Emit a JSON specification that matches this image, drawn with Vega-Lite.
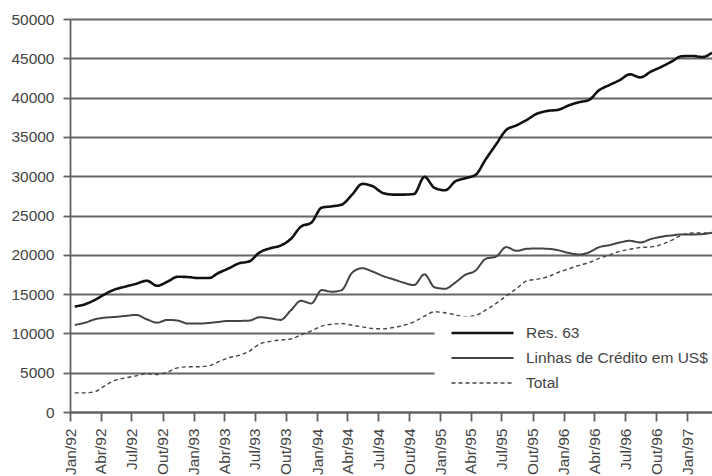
{
  "$schema": "https://vega.github.io/schema/vega-lite/v6.json",
  "width": 642,
  "height": 393,
  "autosize": "none",
  "padding": {"left": 70, "top": 19, "right": 0, "bottom": 64},
  "background": "white",
  "config": {
    "view": {"stroke": null},
    "font": "Liberation Sans",
    "axis": {
      "domainColor": "#606060",
      "domainWidth": 1.8,
      "tickColor": "#606060",
      "tickWidth": 1.8,
      "gridColor": "#666666",
      "gridWidth": 1.8,
      "labelFont": "Liberation Sans",
      "labelFontSize": 15.5,
      "labelColor": "#444444",
      "title": null
    }
  },
  "data": {
    "values": [
      {"d": "1992-01-15", "r": 13420, "l": 11080, "t": 2430},
      {"d": "1992-02-15", "r": 13720, "l": 11370, "t": 2430},
      {"d": "1992-03-15", "r": 14270, "l": 11800, "t": 2600},
      {"d": "1992-04-15", "r": 15040, "l": 12010, "t": 3400},
      {"d": "1992-05-15", "r": 15630, "l": 12100, "t": 4050},
      {"d": "1992-06-15", "r": 15980, "l": 12230, "t": 4350},
      {"d": "1992-07-15", "r": 16320, "l": 12350, "t": 4600},
      {"d": "1992-08-15", "r": 16700, "l": 11800, "t": 4860},
      {"d": "1992-09-15", "r": 16060, "l": 11370, "t": 4770},
      {"d": "1992-10-15", "r": 16570, "l": 11720, "t": 5070},
      {"d": "1992-11-15", "r": 17210, "l": 11630, "t": 5620},
      {"d": "1992-12-15", "r": 17170, "l": 11250, "t": 5750},
      {"d": "1993-01-15", "r": 17040, "l": 11250, "t": 5750},
      {"d": "1993-02-15", "r": 17040, "l": 11330, "t": 5880},
      {"d": "1993-03-15", "r": 17680, "l": 11460, "t": 6390},
      {"d": "1993-04-15", "r": 18280, "l": 11590, "t": 6900},
      {"d": "1993-05-15", "r": 18910, "l": 11590, "t": 7200},
      {"d": "1993-06-15", "r": 19170, "l": 11630, "t": 7750},
      {"d": "1993-07-15", "r": 20300, "l": 12060, "t": 8650},
      {"d": "1993-08-15", "r": 20830, "l": 11930, "t": 8990},
      {"d": "1993-09-15", "r": 21170, "l": 11720, "t": 9160},
      {"d": "1993-10-15", "r": 22000, "l": 12900, "t": 9290},
      {"d": "1993-11-15", "r": 23600, "l": 14150, "t": 9810},
      {"d": "1993-12-15", "r": 24080, "l": 13810, "t": 10320},
      {"d": "1994-01-15", "r": 26000, "l": 15510, "t": 10920},
      {"d": "1994-02-15", "r": 26170, "l": 15300, "t": 11170},
      {"d": "1994-03-15", "r": 26380, "l": 15510, "t": 11260},
      {"d": "1994-04-15", "r": 27660, "l": 17730, "t": 11040},
      {"d": "1994-05-15", "r": 29020, "l": 18290, "t": 10830},
      {"d": "1994-06-15", "r": 28720, "l": 17860, "t": 10620},
      {"d": "1994-07-15", "r": 27870, "l": 17310, "t": 10580},
      {"d": "1994-08-15", "r": 27660, "l": 16880, "t": 10750},
      {"d": "1994-09-15", "r": 27660, "l": 16450, "t": 11040},
      {"d": "1994-10-15", "r": 27740, "l": 16150, "t": 11470},
      {"d": "1994-11-15", "r": 29910, "l": 17520, "t": 12190},
      {"d": "1994-12-15", "r": 28510, "l": 15860, "t": 12750},
      {"d": "1995-01-15", "r": 28210, "l": 15680, "t": 12620},
      {"d": "1995-02-15", "r": 29360, "l": 16490, "t": 12360},
      {"d": "1995-03-15", "r": 29740, "l": 17430, "t": 12110},
      {"d": "1995-04-15", "r": 30170, "l": 17990, "t": 12280},
      {"d": "1995-05-15", "r": 32130, "l": 19480, "t": 12960},
      {"d": "1995-06-15", "r": 34050, "l": 19780, "t": 13810},
      {"d": "1995-07-15", "r": 35880, "l": 20980, "t": 14750},
      {"d": "1995-08-15", "r": 36480, "l": 20500, "t": 15720},
      {"d": "1995-09-15", "r": 37200, "l": 20770, "t": 16700},
      {"d": "1995-10-15", "r": 37970, "l": 20800, "t": 16900},
      {"d": "1995-11-15", "r": 38310, "l": 20760, "t": 17200},
      {"d": "1995-12-15", "r": 38440, "l": 20590, "t": 17750},
      {"d": "1996-01-15", "r": 38990, "l": 20250, "t": 18200},
      {"d": "1996-02-15", "r": 39420, "l": 20040, "t": 18650},
      {"d": "1996-03-15", "r": 39680, "l": 20290, "t": 19000},
      {"d": "1996-04-15", "r": 40950, "l": 20970, "t": 19550},
      {"d": "1996-05-15", "r": 41590, "l": 21230, "t": 19960},
      {"d": "1996-06-15", "r": 42230, "l": 21570, "t": 20450},
      {"d": "1996-07-15", "r": 42960, "l": 21780, "t": 20700},
      {"d": "1996-08-15", "r": 42570, "l": 21570, "t": 20930},
      {"d": "1996-09-15", "r": 43300, "l": 22000, "t": 21000},
      {"d": "1996-10-15", "r": 43890, "l": 22290, "t": 21300},
      {"d": "1996-11-15", "r": 44570, "l": 22470, "t": 21830},
      {"d": "1996-12-15", "r": 45260, "l": 22590, "t": 22500},
      {"d": "1997-01-15", "r": 45300, "l": 22590, "t": 22770},
      {"d": "1997-02-15", "r": 45170, "l": 22640, "t": 22770},
      {"d": "1997-03-15", "r": 45720, "l": 22810, "t": 22780}
    ]
  },
  "transform": [
    {"fold": ["r", "l", "t"], "as": ["serie", "valor"]}
  ],
  "mark": {"type": "line", "interpolate": "monotone", "clip": true},
  "encoding": {
    "x": {
      "field": "d",
      "type": "temporal",
      "scale": {
        "type": "utc",
        "domain": [
          {"year": 1992, "month": 1, "date": 1, "utc": true},
          {"year": 1997, "month": 3, "date": 15, "utc": true}
        ]
      },
      "axis": {
        "grid": false,
        "tickCount": {"interval": "month", "step": 3},
        "labelExpr": "['Jan','Fev','Mar','Abr','Mai','Jun','Jul','Ago','Set','Out','Nov','Dez'][utcmonth(datum.value)] + '/' + utcFormat(datum.value, '%y')",
        "labelAngle": -90,
        "labelAlign": "right",
        "labelBaseline": "middle",
        "tickSize": 9,
        "labelPadding": 7,
        "labelOverlap": false,
        "labelFlush": false
      }
    },
    "y": {
      "field": "valor",
      "type": "quantitative",
      "scale": {"domain": [0, 50000], "nice": false},
      "axis": {
        "values": [0, 5000, 10000, 15000, 20000, 25000, 30000, 35000, 40000, 45000, 50000],
        "format": "d",
        "grid": true,
        "tickSize": 7,
        "labelPadding": 9
      }
    },
    "color": {
      "field": "serie",
      "type": "nominal",
      "scale": {"domain": ["r", "l", "t"], "range": ["#111111", "#444444", "#444444"]},
      "legend": {
        "title": null,
        "orient": "none",
        "legendX": 368,
        "legendY": 301,
        "fillColor": "white",
        "strokeColor": "white",
        "encode": {"legend": {"update": {"strokeWidth": {"value": 7}}}},
        "padding": 3,
        "symbolType": "stroke",
        "symbolSize": 3844,
        "clipHeight": 20,
        "rowPadding": 5,
        "symbolOffset": 9,
        "labelOffset": 11,
        "labelFont": "Liberation Sans",
        "labelFontSize": 15.5,
        "labelColor": "#444444",
        "labelLimit": 300,
        "labelExpr": "datum.label == 'r' ? 'Res. 63' : datum.label == 'l' ? 'Linhas de Crédito em US$' : 'Total'"
      }
    },
    "strokeDash": {
      "field": "serie",
      "type": "nominal",
      "scale": {"domain": ["r", "l", "t"], "range": [[1, 0], [1, 0], [4, 3]]},
      "legend": null
    },
    "strokeWidth": {
      "field": "serie",
      "type": "ordinal",
      "scale": {"domain": ["r", "l", "t"], "range": [2.6, 1.4, 1.4]},
      "legend": null
    }
  }
}
